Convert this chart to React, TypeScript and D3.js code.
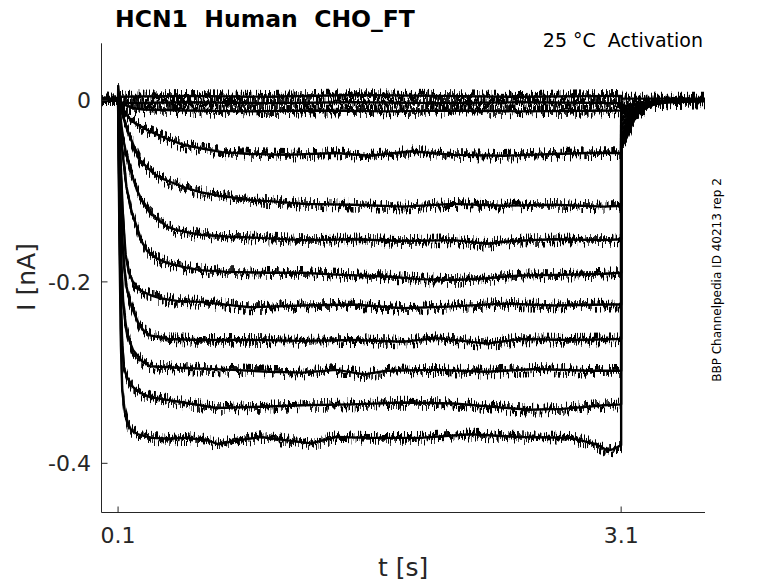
import * as d3 from 'd3'

type Pt = [number, number]

// axes
const xDomain: [number, number] = [0, 3.6]
const yDomain: [number, number] = [-0.454, 0.063]
const xTicks = [0.1, 3.1]
const yTicks = [0, -0.2, -0.4]

// current traces [t (s), I (nA)]
const traceZ0: Pt[] = [[0, 0.003], [0.05, 0.002], [0.1, 0.003], [0.101, 0.016], [0.106, 0.004], [0.5, 0.005], [1.0, 0.004], [1.5, 0.006], [2.0, 0.005], [2.5, 0.004], [3.1, 0.005], [3.105, 0.002], [3.6, 0.002]]
const traceZ1: Pt[] = [[0, -0.001], [0.1, 0], [0.13, -0.003], [0.5, -0.002], [1.0, -0.003], [1.5, -0.002], [2.0, -0.003], [2.5, -0.002], [3.1, -0.003], [3.12, -0.006], [3.2, -0.003], [3.6, -0.001]]
const traceZ2: Pt[] = [[0, 0.001], [0.1, 0], [0.13, -0.004], [0.18, -0.008], [0.25, -0.010], [0.5, -0.011], [0.9, -0.012], [1.3, -0.011], [1.7, -0.012], [2.1, -0.011], [2.5, -0.012], [3.1, -0.011], [3.1, -0.009], [3.15, -0.006], [3.25, -0.003], [3.6, 0]]
const traceA: Pt[] = [[0, 0.001], [0.1, 0], [0.12, -0.006], [0.141, -0.014], [0.17, -0.020], [0.2, -0.025], [0.25, -0.030], [0.3, -0.035], [0.39, -0.042], [0.49, -0.049], [0.6, -0.053], [0.72, -0.057], [0.89, -0.059], [1.1, -0.060], [1.4, -0.058], [1.6, -0.061], [1.85, -0.056], [2.1, -0.060], [2.4, -0.061], [2.7, -0.059], [2.9, -0.058], [3.1, -0.058], [3.1, -0.012], [3.12, -0.011], [3.14, -0.009], [3.17, -0.006], [3.2, -0.0035], [3.25, -0.002], [3.3, -0.001], [3.4, 0], [3.6, 0.001]]
const traceB: Pt[] = [[0, 0], [0.1, 0], [0.12, -0.012], [0.15, -0.030], [0.171, -0.040], [0.2, -0.053], [0.231, -0.066], [0.27, -0.073], [0.308, -0.080], [0.36, -0.086], [0.428, -0.091], [0.5, -0.096], [0.589, -0.101], [0.7, -0.105], [0.785, -0.107], [0.9, -0.110], [1.0, -0.111], [1.2, -0.114], [1.5, -0.115], [1.8, -0.117], [2.1, -0.114], [2.4, -0.116], [2.7, -0.115], [3.0, -0.117], [3.1, -0.116], [3.1, -0.020], [3.12, -0.018], [3.14, -0.015], [3.17, -0.009], [3.2, -0.006], [3.25, -0.003], [3.3, -0.002], [3.4, 0], [3.6, 0]]
const traceC: Pt[] = [[0, 0], [0.1, 0], [0.115, -0.020], [0.13, -0.042], [0.15, -0.060], [0.171, -0.075], [0.213, -0.099], [0.25, -0.113], [0.29, -0.124], [0.35, -0.133], [0.392, -0.139], [0.45, -0.143], [0.589, -0.148], [0.75, -0.150], [0.887, -0.151], [1.2, -0.154], [1.5, -0.153], [1.8, -0.155], [2.1, -0.154], [2.3, -0.158], [2.45, -0.155], [2.7, -0.153], [3.0, -0.154], [3.1, -0.153], [3.1, -0.027], [3.12, -0.024], [3.14, -0.020], [3.17, -0.013], [3.2, -0.008], [3.25, -0.004], [3.3, -0.002], [3.4, 0], [3.6, 0.001]]
const traceD: Pt[] = [[0, 0], [0.1, 0], [0.11, -0.020], [0.125, -0.055], [0.15, -0.095], [0.18, -0.122], [0.213, -0.140], [0.24, -0.155], [0.273, -0.166], [0.33, -0.174], [0.392, -0.179], [0.5, -0.184], [0.589, -0.187], [0.75, -0.189], [1.0, -0.190], [1.2, -0.190], [1.4, -0.192], [1.7, -0.194], [1.9, -0.197], [2.1, -0.198], [2.3, -0.196], [2.5, -0.193], [2.8, -0.192], [3.0, -0.191], [3.1, -0.190], [3.1, -0.032], [3.12, -0.029], [3.14, -0.024], [3.17, -0.015], [3.2, -0.009], [3.25, -0.005], [3.3, -0.003], [3.4, -0.001], [3.6, 0]]
const traceE: Pt[] = [[0, 0], [0.1, 0], [0.108, -0.030], [0.118, -0.080], [0.13, -0.130], [0.145, -0.170], [0.165, -0.190], [0.189, -0.200], [0.22, -0.207], [0.249, -0.211], [0.3, -0.215], [0.35, -0.218], [0.45, -0.221], [0.589, -0.222], [0.887, -0.228], [1.2, -0.226], [1.5, -0.225], [1.8, -0.229], [2.1, -0.227], [2.4, -0.224], [2.7, -0.226], [3.0, -0.225], [3.1, -0.225], [3.1, -0.037], [3.12, -0.033], [3.14, -0.028], [3.17, -0.017], [3.2, -0.011], [3.25, -0.006], [3.3, -0.003], [3.4, -0.001], [3.6, 0]]
const traceF: Pt[] = [[0, 0], [0.1, 0], [0.106, -0.040], [0.114, -0.100], [0.124, -0.150], [0.135, -0.180], [0.15, -0.205], [0.171, -0.222], [0.189, -0.231], [0.22, -0.245], [0.249, -0.253], [0.29, -0.259], [0.4, -0.263], [0.589, -0.264], [0.9, -0.264], [1.2, -0.265], [1.5, -0.264], [1.8, -0.266], [2.0, -0.262], [2.3, -0.268], [2.5, -0.263], [2.8, -0.264], [3.1, -0.263], [3.1, -0.041], [3.12, -0.037], [3.14, -0.031], [3.17, -0.019], [3.2, -0.012], [3.25, -0.007], [3.3, -0.003], [3.4, -0.001], [3.6, 0]]
const traceG: Pt[] = [[0, 0], [0.1, 0], [0.105, -0.050], [0.112, -0.120], [0.12, -0.180], [0.13, -0.220], [0.14, -0.240], [0.153, -0.255], [0.17, -0.266], [0.189, -0.275], [0.24, -0.287], [0.29, -0.293], [0.49, -0.295], [0.785, -0.297], [1.0, -0.299], [1.2, -0.300], [1.4, -0.297], [1.57, -0.302], [1.7, -0.298], [2.0, -0.297], [2.3, -0.299], [2.6, -0.296], [2.9, -0.298], [3.1, -0.298], [3.1, -0.045], [3.12, -0.040], [3.14, -0.034], [3.17, -0.021], [3.2, -0.013], [3.25, -0.007], [3.3, -0.004], [3.4, -0.001], [3.6, 0]]
const traceH: Pt[] = [[0, 0], [0.1, 0], [0.104, -0.060], [0.11, -0.150], [0.117, -0.220], [0.125, -0.270], [0.135, -0.295], [0.153, -0.305], [0.189, -0.316], [0.24, -0.323], [0.29, -0.327], [0.49, -0.333], [0.69, -0.339], [0.9, -0.338], [1.2, -0.336], [1.5, -0.335], [1.8, -0.333], [2.1, -0.334], [2.55, -0.341], [2.75, -0.340], [3.0, -0.336], [3.1, -0.335], [3.1, -0.048], [3.12, -0.043], [3.14, -0.036], [3.17, -0.023], [3.2, -0.014], [3.25, -0.008], [3.3, -0.004], [3.4, -0.001], [3.6, 0]]
const traceI: Pt[] = [[0, 0], [0.1, 0], [0.104, -0.080], [0.11, -0.180], [0.117, -0.270], [0.125, -0.320], [0.141, -0.344], [0.159, -0.356], [0.18, -0.364], [0.22, -0.368], [0.3, -0.372], [0.4, -0.373], [0.5, -0.372], [0.62, -0.374], [0.7, -0.379], [0.8, -0.375], [0.95, -0.371], [1.12, -0.375], [1.25, -0.378], [1.4, -0.371], [1.6, -0.372], [1.9, -0.372], [2.2, -0.368], [2.5, -0.371], [2.8, -0.372], [2.95, -0.379], [3.02, -0.386], [3.06, -0.384], [3.1, -0.380], [3.1, -0.051], [3.12, -0.046], [3.14, -0.038], [3.17, -0.024], [3.2, -0.015], [3.25, -0.008], [3.3, -0.004], [3.4, -0.001], [3.6, 0]]

const traces = [traceZ0, traceZ1, traceZ2, traceA, traceB, traceC, traceD, traceE, traceF, traceG, traceH, traceI]

const W = 778, H = 583
const M = { left: 101.3, right: 705, top: 43.3, bottom: 512.3 }
const FONT = '"DejaVu Sans", sans-serif'
const AX = '#262626'

export default function App() {
  const x = d3.scaleLinear().domain(xDomain).range([M.left, M.right])
  const y = d3.scaleLinear().domain(yDomain).range([M.bottom, M.top])
  const line = d3.line<Pt>().x(d => x(d[0])).y(d => y(d[1]))
  const axL = Math.round(M.left) + 0.5
  const axB = Math.round(M.bottom) + 0.5
  const paths = traces.map(t => line(t) ?? '')

  return (
    <svg width={W} height={H} viewBox={`0 0 ${W} ${H}`}
      style={{ position: 'absolute', left: 0, top: 0, display: 'block', background: '#fff' }}
      fontFamily={FONT}>
      <defs>
        {/* recording-noise texture: vertical jitter, then short vertical smear */}
        <filter id="jitter" filterUnits="userSpaceOnUse" x={0} y={0} width={W} height={H}>
          <feTurbulence type="fractalNoise" baseFrequency="0.7 0.05" numOctaves={2} seed={4} result="turb" />
          <feComponentTransfer in="turb" result="disp">
            <feFuncR type="linear" slope={0} intercept={0.5} />
            <feFuncG type="linear" slope={3} intercept={-1} />
          </feComponentTransfer>
          <feDisplacementMap in="SourceGraphic" in2="disp" scale={9} xChannelSelector="R" yChannelSelector="G" result="moved" />
          <feMorphology in="moved" operator="dilate" radius="0 2" />
        </filter>
      </defs>

      {/* traces: solid core + noisy envelope */}
      <g fill="none" stroke="#000" strokeLinejoin="round">
        <g strokeWidth={2.4}>
          {paths.map((d, i) => <path key={i} d={d} />)}
        </g>
        <g strokeWidth={1.7} filter="url(#jitter)">
          {paths.map((d, i) => <path key={i} d={d} />)}
        </g>
      </g>

      {/* axes */}
      <line x1={axL} x2={axL} y1={M.top} y2={axB} stroke={AX} strokeWidth={1} />
      <line x1={axL} x2={M.right} y1={axB} y2={axB} stroke={AX} strokeWidth={1} />
      {yTicks.map(v => (
        <g key={v}>
          <line x1={axL} x2={axL + 6} y1={y(v)} y2={y(v)} stroke={AX} strokeWidth={1} />
          <text x={91} y={y(v)} dy="0.36em" textAnchor="end" fontSize={22} fill={AX}>{v === 0 ? '0' : String(v)}</text>
        </g>
      ))}
      {xTicks.map(v => (
        <g key={v}>
          <line x1={x(v)} x2={x(v)} y1={axB} y2={axB - 6} stroke={AX} strokeWidth={1} />
          <text x={x(v)} y={543} textAnchor="middle" fontSize={22} fill={AX}>{String(v)}</text>
        </g>
      ))}

      {/* labels */}
      <text x={(M.left + M.right) / 2} y={576} textAnchor="middle" fontSize={25} fill={AX}>t [s]</text>
      <text transform="translate(35,277) rotate(-90)" textAnchor="middle" fontSize={25} fill={AX}>I [nA]</text>
      <text x={115} y={27} fontSize={23.5} fontWeight="bold" fill="#000" style={{ whiteSpace: 'pre' }}>{'HCN1  Human  CHO_FT'}</text>
      <text x={703} y={47} textAnchor="end" fontSize={19} fill="#000" style={{ whiteSpace: 'pre' }}>{'25 °C  Activation'}</text>
      <text transform="translate(721,280) rotate(-90)" textAnchor="middle" fontSize={12} fill="#000">BBP Channelpedia ID 40213 rep 2</text>
    </svg>
  )
}
